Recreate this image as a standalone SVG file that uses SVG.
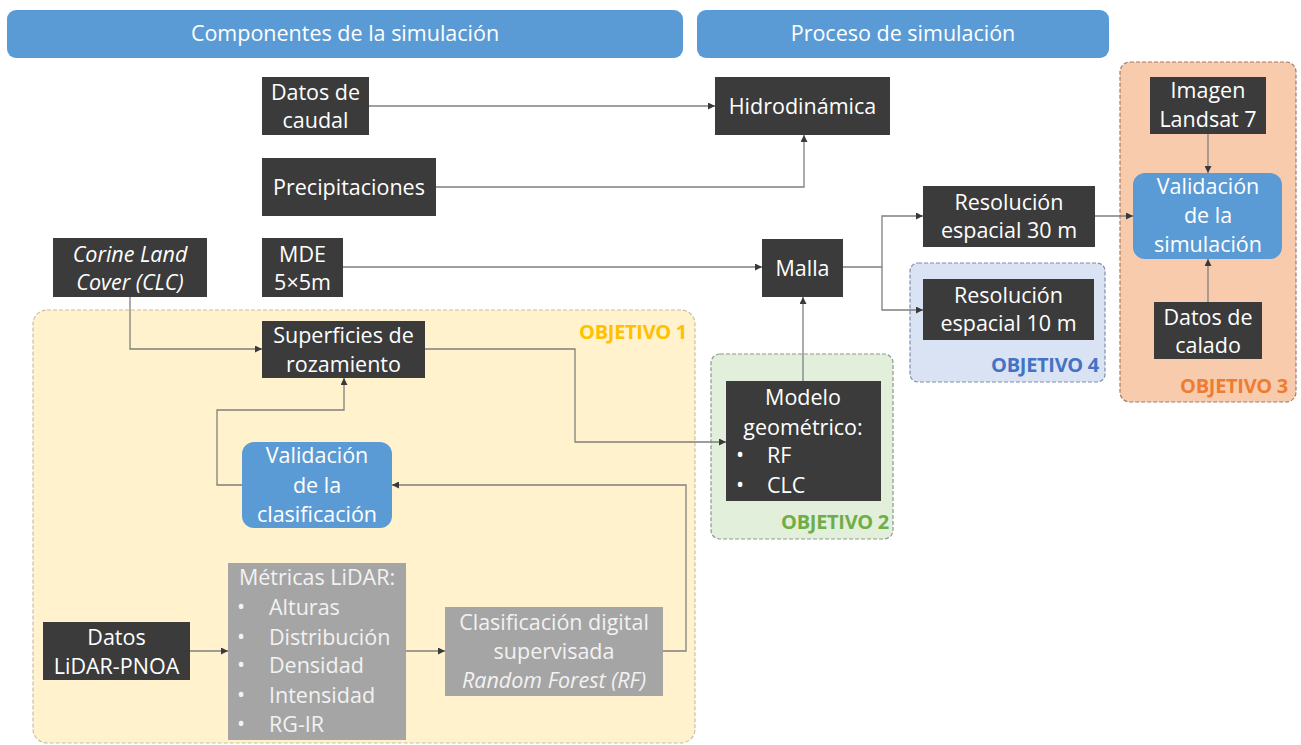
<svg xmlns="http://www.w3.org/2000/svg" width="1301" height="745" viewBox="0 0 1301 745">
<defs>
<marker id="ah" viewBox="0 0 10 10" refX="10" refY="5" markerWidth="7" markerHeight="7" markerUnits="userSpaceOnUse" orient="auto">
<path d="M0,0 L10,5 L0,10 z" fill="#3a3a3a"/>
</marker>
<style>
text{font-family:"Open Sans","Liberation Sans",sans-serif;font-size:21.5px;fill:#ffffff;text-anchor:middle}
.dark{fill:#3b3b3b}
.blue{fill:#5b9bd5}
.grey{fill:#a5a5a5}
.gt{fill:#f2f2f2}
.it{font-style:italic}
.lft{text-anchor:start}
.obj{font-weight:bold;font-size:20px;text-anchor:end;letter-spacing:-0.3px}
.conn path{fill:none;stroke:#7f7f7f;stroke-width:1.3;marker-end:url(#ah)}
.grp{stroke-dasharray:4 2;stroke-width:1.2}
</style>
</defs>
<rect width="1301" height="745" fill="#ffffff"/>

<g id="header-componentes">
<rect x="7" y="10" width="676" height="48" rx="9" class="blue"/>
<text x="345" y="41">Componentes de la simulación</text>
</g>
<g id="header-proceso">
<rect x="697" y="10" width="412" height="48" rx="9" class="blue"/>
<text x="903" y="41">Proceso de simulación</text>
</g>

<g id="objetivo1">
<rect x="33" y="310" width="662" height="433" rx="14" fill="#fff2cc" stroke="#c8c0a8" class="grp"/>
<text x="687" y="339" class="obj" style="fill:#ffc000">OBJETIVO 1</text>
</g>
<g id="objetivo2">
<rect x="711" y="354" width="182" height="185" rx="9" fill="#e2efda" stroke="#8a9a88" class="grp"/>
<text x="889" y="529" class="obj" style="fill:#70ad47">OBJETIVO 2</text>
</g>
<g id="objetivo4">
<rect x="910" y="263" width="195" height="119" rx="8" fill="#dae3f3" stroke="#7f8daa" class="grp"/>
<text x="1099" y="372" class="obj" style="fill:#4472c4">OBJETIVO 4</text>
</g>
<g id="objetivo3">
<rect x="1120" y="62" width="176" height="340" rx="10" fill="#f8cbad" stroke="#a07a66" class="grp"/>
<text x="1288" y="393" class="obj" style="fill:#ed7d31">OBJETIVO 3</text>
</g>

<g class="conn" id="connectors">
<path d="M369,106 H715"/>
<path d="M436,187 H804 V135"/>
<path d="M343,267 H762"/>
<path d="M130,297 V349 H262"/>
<path d="M425,349 H575 V442 H726"/>
<path d="M803,381 V297"/>
<path d="M843,267 H882 V216 H923"/>
<path d="M882,267 V310 H923"/>
<path d="M1095,216 H1133"/>
<path d="M1208,134 V173"/>
<path d="M1208,302 V259"/>
<path d="M242,485 H217 V410 H344 V378"/>
<path d="M663,651 H686 V485 H392"/>
<path d="M190,651 H228"/>
<path d="M406,651 H445"/>
</g>

<g id="datos-caudal">
<rect x="262" y="77" width="107" height="58" class="dark"/>
<text x="315.5" y="100">Datos de</text>
<text x="315.5" y="128">caudal</text>
</g>
<g id="precipitaciones">
<rect x="262" y="158" width="174" height="58" class="dark"/>
<text x="349" y="195">Precipitaciones</text>
</g>
<g id="mde">
<rect x="262" y="238" width="81" height="59" class="dark"/>
<text x="302.5" y="262">MDE</text>
<text x="302.5" y="290">5×5m</text>
</g>
<g id="corine">
<rect x="53" y="238" width="154" height="59" class="dark"/>
<text x="130" y="262" class="it">Corine Land</text>
<text x="130" y="290" class="it">Cover (CLC)</text>
</g>
<g id="hidrodinamica">
<rect x="715" y="77" width="175" height="58" class="dark"/>
<text x="802.5" y="114">Hidrodinámica</text>
</g>
<g id="malla">
<rect x="762" y="239" width="81" height="58" class="dark"/>
<text x="802.5" y="276">Malla</text>
</g>
<g id="res30">
<rect x="923" y="186" width="172" height="61" class="dark"/>
<text x="1009" y="210">Resolución</text>
<text x="1009" y="238">espacial 30 m</text>
</g>
<g id="res10">
<rect x="923" y="279" width="171" height="61" class="dark"/>
<text x="1008.5" y="303">Resolución</text>
<text x="1008.5" y="331">espacial 10 m</text>
</g>
<g id="imagen-landsat">
<rect x="1150" y="77" width="116" height="57" class="dark"/>
<text x="1208" y="98">Imagen</text>
<text x="1208" y="127">Landsat 7</text>
</g>
<g id="validacion-simulacion">
<rect x="1133" y="173" width="149" height="86" rx="12" class="blue"/>
<text x="1208" y="194">Validación</text>
<text x="1208" y="223">de la</text>
<text x="1208" y="252">simulación</text>
</g>
<g id="datos-calado">
<rect x="1154" y="302" width="108" height="57" class="dark"/>
<text x="1208" y="325">Datos de</text>
<text x="1208" y="353">calado</text>
</g>
<g id="modelo-geometrico">
<rect x="726" y="381" width="155" height="120" class="dark"/>
<text x="803" y="405">Modelo</text>
<text x="803" y="435">geométrico:</text>
<text x="740" y="462">•</text>
<text x="767" y="463" class="lft">RF</text>
<text x="740" y="492">•</text>
<text x="767" y="493" class="lft">CLC</text>
</g>
<g id="superficies">
<rect x="262" y="321" width="163" height="57" class="dark"/>
<text x="343.5" y="343">Superficies de</text>
<text x="343.5" y="372">rozamiento</text>
</g>
<g id="validacion-clasificacion">
<rect x="242" y="442" width="150" height="86" rx="12" class="blue"/>
<text x="317" y="463">Validación</text>
<text x="317" y="493">de la</text>
<text x="317" y="522">clasificación</text>
</g>
<g id="datos-lidar">
<rect x="43" y="622" width="147" height="58" class="dark"/>
<text x="116.5" y="645">Datos</text>
<text x="116.5" y="674">LiDAR-PNOA</text>
</g>
<g id="metricas-lidar">
<rect x="228" y="563" width="178" height="177" class="grey"/>
<text x="317" y="585" class="gt">Métricas LiDAR:</text>
<text x="241" y="614" class="gt">•</text>
<text x="269" y="615" class="gt lft">Alturas</text>
<text x="241" y="644" class="gt">•</text>
<text x="269" y="645" class="gt lft">Distribución</text>
<text x="241" y="672" class="gt">•</text>
<text x="269" y="673" class="gt lft">Densidad</text>
<text x="241" y="702" class="gt">•</text>
<text x="269" y="703" class="gt lft">Intensidad</text>
<text x="241" y="731" class="gt">•</text>
<text x="269" y="732" class="gt lft">RG-IR</text>
</g>
<g id="clasificacion-digital">
<rect x="445" y="607" width="218" height="89" class="grey"/>
<text x="554" y="630" class="gt">Clasificación digital</text>
<text x="554" y="659" class="gt">supervisada</text>
<text x="554" y="688" class="gt it">Random Forest (RF)</text>
</g>
</svg>
